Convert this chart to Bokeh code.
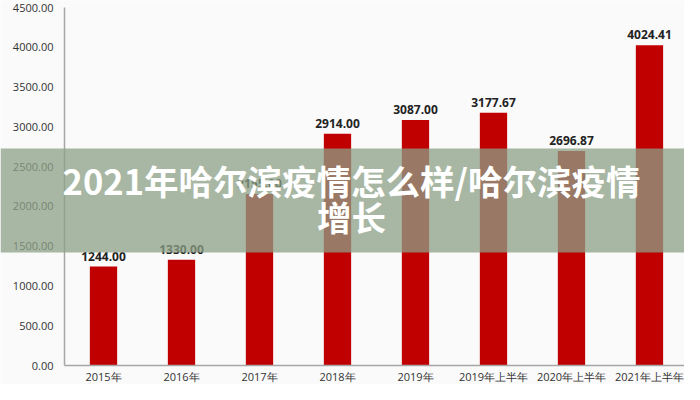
from bokeh.plotting import figure
from bokeh.models import (ColumnDataSource, NumeralTickFormatter, SingleIntervalTicker,
                          FixedTicker, Label, BoxAnnotation, Range1d)
from bokeh.core.properties import value
from bokeh.embed import file_html
from bokeh.resources import INLINE

categories = ["2015年", "2016年", "2017年", "2018年", "2019年",
              "2019年上半年", "2020年上半年", "2021年上半年"]
values = [1244.00, 1330.00, 2155.00, 2914.00, 3087.00, 3177.67, 2696.87, 4024.41]
value_labels = ["%.2f" % v for v in values]
title_lines = ["2021年哈尔滨疫情怎么样/哈尔滨疫情", "增长"]

xs = list(range(len(categories)))
src = ColumnDataSource(dict(x=xs, val=values, lab=value_labels))

p = figure(x_range=Range1d(-1.3205, 7.449), y_range=Range1d(-238.8, 4588.0),
           width=684, height=384, output_backend="svg", toolbar_location=None,
           min_border_left=0, min_border_right=0, min_border_top=0, min_border_bottom=0)
p.background_fill_color = "#fafafa"
p.border_fill_color = "#fafafa"
p.outline_line_color = None
p.xgrid.grid_line_color = None
p.ygrid.grid_line_color = None

p.vbar(x="x", top="val", width=0.35, source=src, fill_color="#c00000", line_color=None)
p.text(x="x", y="val", text="lab", source=src, text_align="center", text_baseline="bottom",
       y_offset=-6, text_font=value("Open Sans"), text_font_style="bold",
       text_font_size="12px", text_color="#222222")

xa = p.xaxis[0]
ya = p.yaxis[0]
ya.ticker = SingleIntervalTicker(interval=500)
ya.formatter = NumeralTickFormatter(format="0.00")
ya.fixed_location = -0.5
ya.bounds = (0, 4500)
xa.ticker = FixedTicker(ticks=xs)
xa.major_label_overrides = {i: c for i, c in zip(xs, categories)}
xa.fixed_location = 0
xa.bounds = (-0.5, 7.5)
for ax in (xa, ya):
    ax.axis_line_color = "#a6a6a6"
    ax.axis_line_width = 1.5
    ax.major_tick_line_color = None
    ax.minor_tick_line_color = None
    ax.major_tick_out = 0
    ax.major_label_text_font = "Open Sans"
    ax.major_label_text_font_size = "11px"
    ax.major_label_text_color = "#333333"
ya.major_label_standoff = 7
xa.major_label_standoff = 3

band = BoxAnnotation(top=148, bottom=252, top_units="canvas", bottom_units="canvas",
                     fill_color="#8ca087", fill_alpha=0.75, line_color=None)
p.add_layout(band)

for line, cy in zip(title_lines, [179, 215]):
    p.add_layout(Label(x=351, y=cy, x_units="canvas", y_units="canvas", text=line,
                       text_align="center", text_baseline="middle",
                       text_font="Noto Sans CJK SC", text_font_style="bold",
                       text_font_size="34.5px", text_color="white"))

open("out.html", "w").write(file_html(p, INLINE))
